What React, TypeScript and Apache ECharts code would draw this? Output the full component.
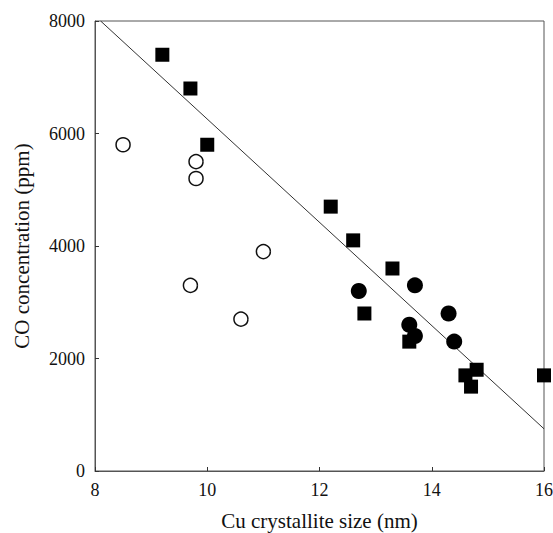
import React, { useEffect, useRef } from "react";
import * as echarts from "echarts";

// Filled squares
const squareX = [9.2, 9.7, 10.0, 12.2, 12.6, 13.3, 12.8, 13.6, 14.6, 14.8, 14.7, 16.0];
const squareY = [7400, 6800, 5800, 4700, 4100, 3600, 2800, 2300, 1700, 1800, 1500, 1700];
// Filled circles
const dotX = [12.7, 13.7, 14.3, 13.6, 13.7, 14.4];
const dotY = [3200, 3300, 2800, 2600, 2400, 2300];
// Open circles
const ringX = [8.5, 9.8, 9.8, 11.0, 9.7, 10.6];
const ringY = [5800, 5500, 5200, 3900, 3300, 2700];
// Fitted line endpoints
const fitX = [8.1, 16.0];
const fitY = [8000, 750];

const xTicks = [8, 10, 12, 14, 16];
const yTicks = [0, 2000, 4000, 6000, 8000];

const zip = (a: number[], b: number[]) => a.map((v, i) => [v, b[i]]);

export default function App() {
  const ref = useRef<HTMLDivElement>(null);
  useEffect(() => {
    const chart = echarts.init(ref.current!, null, { renderer: "svg" });
    const font = "Liberation Serif";
    chart.setOption({
      animation: false,
      backgroundColor: "#fff",
      grid: {
        left: 95,
        right: 9,
        top: 21,
        bottom: 62,
        containLabel: false,
        outerBoundsMode: "none",
        show: true,
        borderColor: "#555",
        borderWidth: 1,
      },
      xAxis: {
        type: "value",
        min: xTicks[0],
        max: xTicks[xTicks.length - 1],
        interval: 2,
        name: "Cu crystallite size (nm)",
        nameLocation: "middle",
        nameGap: 40,
        nameTextStyle: { fontFamily: font, fontSize: 21, lineHeight: 20, color: "#111" },
        axisLine: { lineStyle: { color: "#555" } },
        axisTick: { inside: true, length: 4, lineStyle: { color: "#333" } },
        axisLabel: { fontFamily: font, fontSize: 18, color: "#111", margin: 10 },
        splitLine: { show: false },
      },
      yAxis: {
        type: "value",
        min: yTicks[0],
        max: yTicks[yTicks.length - 1],
        interval: 2000,
        name: "CO concentration (ppm)",
        nameLocation: "middle",
        nameGap: 63,
        nameRotate: 90,
        nameTextStyle: { fontFamily: font, fontSize: 21, color: "#111" },
        axisLine: { show: true, lineStyle: { color: "#555" } },
        axisTick: { show: true, inside: true, length: 4, lineStyle: { color: "#333" } },
        axisLabel: {
          fontFamily: font,
          fontSize: 18,
          color: "#111",
          margin: 10,
          formatter: (v: number) => String(v),
        },
        splitLine: { show: false },
      },
      series: [
        {
          type: "line",
          data: zip(fitX, fitY),
          symbol: "none",
          lineStyle: { color: "#333", width: 1 },
          z: 1,
        },
        {
          type: "scatter",
          data: zip(squareX, squareY),
          symbol: "rect",
          symbolSize: 14,
          itemStyle: { color: "#000", opacity: 1 },
          z: 3,
        },
        {
          type: "scatter",
          data: zip(dotX, dotY),
          symbol: "circle",
          symbolSize: 16,
          itemStyle: { color: "#000", opacity: 1 },
          z: 3,
        },
        {
          type: "scatter",
          data: zip(ringX, ringY),
          symbol: "circle",
          symbolSize: 14,
          itemStyle: { color: "#fff", borderColor: "#111", borderWidth: 1.5, opacity: 1 },
          z: 3,
        },
      ],
    });
    return () => chart.dispose();
  }, []);
  return (
    <div
      ref={ref}
      style={{ position: "fixed", left: 0, top: 0, width: 553, height: 533 }}
    />
  );
}
